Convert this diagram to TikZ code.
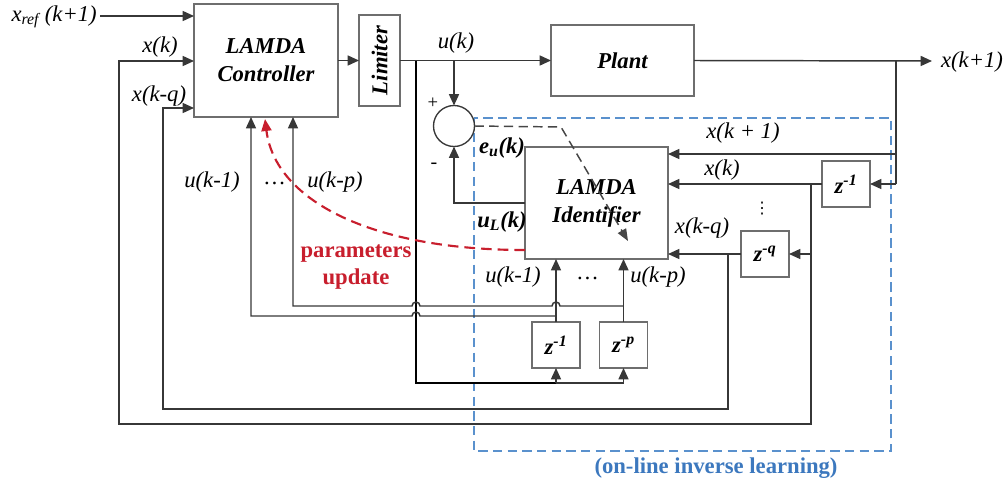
\documentclass[tikz,border=0pt]{standalone}
\usepackage{fontspec}
\setmainfont{Liberation Serif}
\newfontfamily\dejavu{DejaVu Sans}
\usetikzlibrary{arrows.meta}
\definecolor{lineg}{RGB}{55,55,55}
\definecolor{boxg}{RGB}{110,110,110}
\definecolor{redd}{RGB}{200,30,45}
\definecolor{bluel}{RGB}{90,145,205}
\definecolor{bluet}{RGB}{60,120,190}
\definecolor{gdk}{RGB}{70,70,70}
\begin{document}
\begin{tikzpicture}[x=0.75pt,y=-0.75pt,
  font=\fontsize{17}{20}\selectfont,
  blk/.style={draw=boxg, line width=0.9pt, fill=white, inner sep=0pt, outer sep=0pt, rectangle,
    font=\fontsize{17}{21}\selectfont\bfseries\itshape, align=center},
  zbox/.style={blk, minimum width=36pt, minimum height=34.5pt},
  conn/.style={draw=lineg, line width=1.1pt},
  arr/.style={conn, -{Triangle[length=8.5pt,width=7.5pt]}},
  thk/.style={draw=black, line width=1.6pt},
  lbl/.style={inner sep=0pt, font=\fontsize{17}{20}\selectfont\itshape},
  blbl/.style={inner sep=0pt, font=\fontsize{17}{20}\selectfont\bfseries\itshape},
  reddash/.style={draw=redd, line width=1.6pt, dash pattern=on 8pt off 4.5pt, -{Triangle[length=9pt,width=7.5pt]}},
  gdash/.style={draw=gdk, line width=1.1pt, dash pattern=on 7pt off 4pt, -{Triangle[length=9pt,width=7pt]}},
  bdash/.style={draw=bluel, line width=1.2pt, dash pattern=on 7pt off 4pt}
]
\useasboundingbox (0,0) rectangle (1005,486);

% on-line learning frame
\draw[bdash] (474,118) rectangle (891,451);

% blocks
\node[blk, minimum width=108pt, minimum height=84.75pt] (ctrl) at (266,60.5) {LAMDA\\Controller};
\node[blk, minimum width=30.75pt, minimum height=68.25pt] (lim) at (379.5,60.5) {\rotatebox{90}{Limiter}};
\node[blk, minimum width=107.25pt, minimum height=53.25pt] (plant) at (622.5,60.5) {Plant};
\node[blk, minimum width=107.25pt, minimum height=84pt] (ident) at (596.5,203) {LAMDA\\Identifier};
\node[draw=lineg, line width=1pt, circle, fill=white, minimum size=30.75pt, inner sep=0pt, outer sep=0pt] (sum) at (454,126) {};
\node[zbox] (z1x) at (846,184) {z\textsuperscript{-1}};
\node[zbox] (zq) at (765,254) {z\textsuperscript{-q}};
\node[zbox] (z1) at (556,345) {z\textsuperscript{-1}};
\node[zbox] (zp) at (623.5,345) {z\textsuperscript{-p}};

% junction coordinates
\coordinate (xrefS) at (100,16);
\coordinate (uJ) at (416,61);
\coordinate (sJ) at (454,61);
\coordinate (oJ) at (896,61);
\coordinate (outE) at (932,61);
\coordinate (bL) at (416,383);
\coordinate (b1) at (556,383);
\coordinate (b2) at (623.5,383);
\coordinate (k1) at (556,316);
\coordinate (k2) at (623.5,306);
\coordinate (c1) at (251,316);
\coordinate (c2) at (293,306);
\coordinate (oJ1) at (896,154);
\coordinate (oJ2) at (896,184);
\coordinate (xkJ) at (811,184);
\coordinate (xkq) at (811,254);
\coordinate (xqJ) at (728,254);
\coordinate (lk) at (119,61);
\coordinate (lq) at (163,108);
\coordinate (rS) at (525,250);
\coordinate (rE) at (265,119);
\coordinate (gB) at (561,127);
\coordinate (gE) at (628,241);

% main forward path
\draw[arr] (xrefS) -- (xrefS -| ctrl.west);
\draw[arr] (ctrl.east) -- (lim.west);
\draw[arr] (lim.east) -- (plant.west);
\draw[arr] (plant.east) -- (outE);
\draw[arr] (sJ) -- (sum.north);

% u(k) to delay line
\draw[thk] (uJ) -- (bL) -- (b1);
\draw[arr] (b1) -- (z1.south);
\draw[conn] (b1) -- (b2);
\draw[arr] (b2) -- (zp.south);

% delayed u to identifier
\draw[arr] (z1.north) -- (z1.north |- ident.south);
\draw[arr] (zp.north) -- (zp.north |- ident.south);

% delayed u to controller (with jumps)
\draw[arr] (k1) -- (420,316) arc[start angle=0,end angle=180,radius=3pt] -- (c1) -- (c1 |- ctrl.south);
\draw[arr] (k2) -- (560,306) arc[start angle=0,end angle=180,radius=3pt] -- (420,306) arc[start angle=0,end angle=180,radius=3pt] -- (c2) -- (c2 |- ctrl.south);

% identifier output to summation
\draw[arr] (ident.west) -| (sum.south);

% state feedback
\draw[conn] (oJ) -- (oJ2);
\draw[arr] (oJ2) -- (z1x.east);
\draw[arr] (oJ1) -- (oJ1 -| ident.east);
\draw[arr] (z1x.west) -- (z1x.west -| ident.east);
\draw[arr] (xkq) -- (zq.east);
\draw[arr] (xkJ) -- (811,424) -| (lk) -- (lk -| ctrl.west);
\draw[arr] (zq.west) -- (zq.west -| ident.east);
\draw[arr] (xqJ) -- (728,409) -| (lq) -- (lq -| ctrl.west);

% parameter update and error
\draw[reddash] (rS) .. controls (370,250) and (275,200) .. (rE);
\draw[gdash] (sum.east) -- (gB) -- (gE);

% labels
\node[lbl, anchor=east] (lxref) at (97,17) {x\textsubscript{ref} (k+1)};
\node[lbl] (lxk) at (160,47) {x(k)};
\node[lbl] (lxkq) at (159,96) {x(k-q)};
\node[lbl] (luk) at (456,43) {u(k)};
\node[inner sep=0pt, font=\fontsize{14}{14}\selectfont] (lplus) at (433,103) {+};
\node[inner sep=0pt, font=\fontsize{15}{15}\selectfont] (lminus) at (434,166) {-};
\node[blbl] (leu) at (502,148) {e\textsubscript{u}(k)};
\node[blbl] (lul) at (502,222) {u\textsubscript{L}(k)};
\node[lbl] (lu1c) at (212,182) {u(k-1)};
\node[lbl] (ldc) at (275,183) {\ldots};
\node[lbl] (lupc) at (335,182) {u(k-p)};
\node[lbl] (lxk1i) at (743,133) {x(k + 1)};
\node[lbl] (lxki) at (722,170) {x(k)};
\node[inner sep=0pt, font=\dejavu\fontsize{12}{12}\selectfont] (lvd) at (762,209) {⋮};
\node[lbl] (lxkqi) at (702,228) {x(k-q)};
\node[lbl] (lu1i) at (513,277) {u(k-1)};
\node[lbl] (ldi) at (588,278) {\ldots};
\node[lbl] (lupi) at (658,277) {u(k-p)};
\node[lbl] (lout) at (972,62) {x(k+1)};
\node[inner sep=0pt, text=redd, font=\fontsize{17}{20}\selectfont\bfseries, align=center] (lpar) at (356,267) {parameters\\update};
\node[inner sep=0pt, text=bluet, font=\fontsize{17}{20}\selectfont\bfseries] (lonl) at (716,468) {(on-line inverse learning)};
\end{tikzpicture}
\end{document}
